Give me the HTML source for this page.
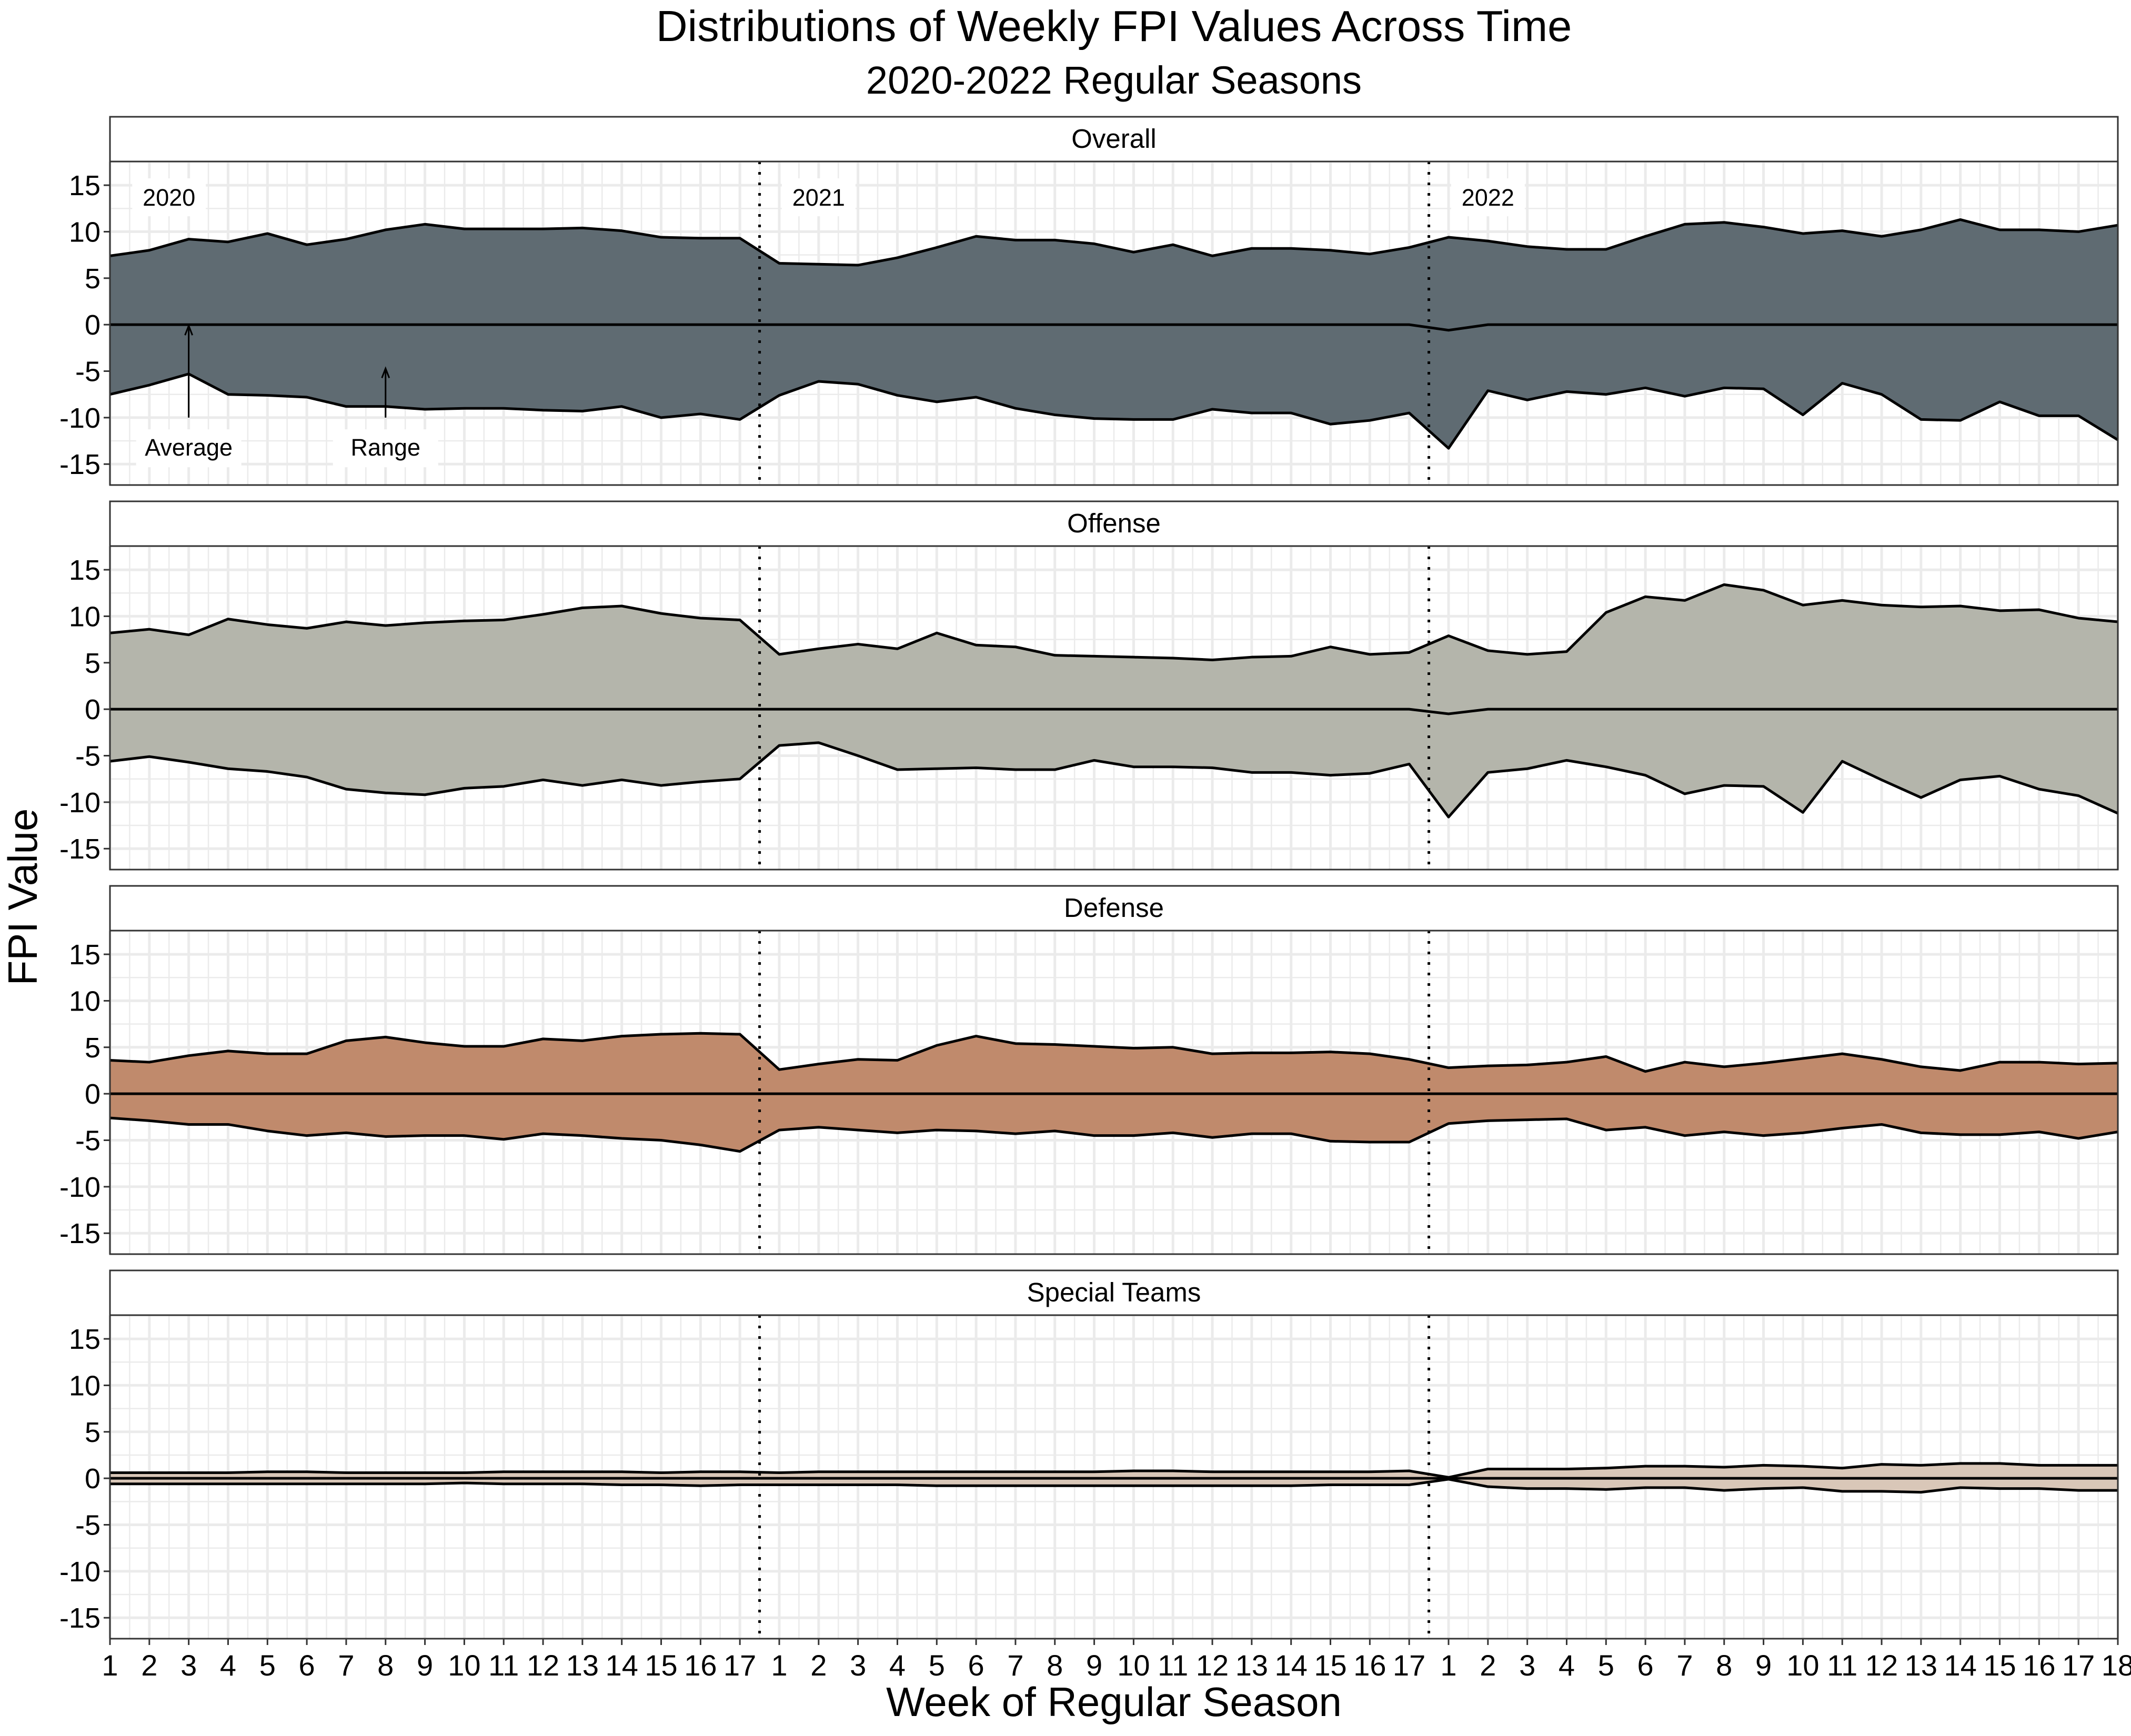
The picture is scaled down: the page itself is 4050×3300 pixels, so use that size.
<!DOCTYPE html>
<html><head><meta charset="utf-8"><style>
html,body{margin:0;padding:0;background:#fff;}
svg{display:block;font-family:"Liberation Sans",sans-serif;}
</style></head><body>
<svg id="chart" width="4050" height="3300" viewBox="0 0 4050 3300" xmlns="http://www.w3.org/2000/svg">
<text x="2117" y="78" font-size="83" text-anchor="middle">Distributions of Weekly FPI Values Across Time</text>
<text x="2117" y="178" font-size="74" text-anchor="middle">2020-2022 Regular Seasons</text>
<text transform="translate(70,1705) rotate(-90)" font-size="78" text-anchor="middle">FPI Value</text>
<text x="2117" y="3262" font-size="78" text-anchor="middle">Week of Regular Season</text>
<g id="panels"></g>
</svg>
<script>
const weekLabels = ["1","2","3","4","5","6","7","8","9","10","11","12","13","14","15","16","17","1","2","3","4","5","6","7","8","9","10","11","12","13","14","15","16","17","1","2","3","4","5","6","7","8","9","10","11","12","13","14","15","16","17","18"];
const yTicks = [-15,-10,-5,0,5,10,15];
const panelNames = ["Overall","Offense","Defense","Special Teams"];
const panelColors = ["#5f6b72","#b4b5ab","#c08a6c","#d9c7b8"];
const overallHigh = [7.4,8.0,9.2,8.9,9.8,8.6,9.2,10.2,10.8,10.3,10.3,10.3,10.4,10.1,9.4,9.3,9.3, 6.6,6.5,6.4,7.2,8.3,9.5,9.1,9.1,8.7,7.8,8.6,7.4,8.2,8.2,8.0,7.6,8.3, 9.4,9.0,8.4,8.1,8.1,9.5,10.8,11.0,10.5,9.8,10.1,9.5,10.2,11.3,10.2,10.2,10.0,10.7];
const overallLow = [-7.5,-6.5,-5.3,-7.5,-7.6,-7.8,-8.8,-8.8,-9.1,-9.0,-9.0,-9.2,-9.3,-8.8,-10.0,-9.6,-10.2, -7.6,-6.1,-6.4,-7.6,-8.3,-7.8,-9.0,-9.7,-10.1,-10.2,-10.2,-9.1,-9.5,-9.5,-10.7,-10.3,-9.5, -13.3,-7.1,-8.1,-7.2,-7.5,-6.8,-7.7,-6.8,-6.9,-9.7,-6.3,-7.5,-10.2,-10.3,-8.3,-9.8,-9.8,-12.4];
const offenseHigh = [8.2,8.6,8.0,9.7,9.1,8.7,9.4,9.0,9.3,9.5,9.6,10.2,10.9,11.1,10.3,9.8,9.6, 5.9,6.5,7.0,6.5,8.2,6.9,6.7,5.8,5.7,5.6,5.5,5.3,5.6,5.7,6.7,5.9,6.1, 7.9,6.3,5.9,6.2,10.4,12.1,11.7,13.4,12.8,11.2,11.7,11.2,11.0,11.1,10.6,10.7,9.8,9.4];
const offenseLow = [-5.6,-5.1,-5.7,-6.4,-6.7,-7.3,-8.6,-9.0,-9.2,-8.5,-8.3,-7.6,-8.2,-7.6,-8.2,-7.8,-7.5, -3.9,-3.6,-5.0,-6.5,-6.4,-6.3,-6.5,-6.5,-5.5,-6.2,-6.2,-6.3,-6.8,-6.8,-7.1,-6.9,-5.9, -11.6,-6.8,-6.4,-5.5,-6.2,-7.1,-9.1,-8.2,-8.3,-11.1,-5.6,-7.6,-9.5,-7.6,-7.2,-8.6,-9.3,-11.2];
const defenseHigh = [3.6,3.4,4.1,4.6,4.3,4.3,5.7,6.1,5.5,5.1,5.1,5.9,5.7,6.2,6.4,6.5,6.4, 2.6,3.2,3.7,3.6,5.2,6.2,5.4,5.3,5.1,4.9,5.0,4.3,4.4,4.4,4.5,4.3,3.7, 2.8,3.0,3.1,3.4,4.0,2.4,3.4,2.9,3.3,3.8,4.3,3.7,2.9,2.5,3.4,3.4,3.2,3.3];
const defenseLow = [-2.6,-2.9,-3.3,-3.3,-4.0,-4.5,-4.2,-4.6,-4.5,-4.5,-4.9,-4.3,-4.5,-4.8,-5.0,-5.5,-6.2, -3.9,-3.6,-3.9,-4.2,-3.9,-4.0,-4.3,-4.0,-4.5,-4.5,-4.2,-4.7,-4.3,-4.3,-5.1,-5.2,-5.2, -3.2,-2.9,-2.8,-2.7,-3.9,-3.6,-4.5,-4.1,-4.5,-4.2,-3.7,-3.3,-4.2,-4.4,-4.4,-4.1,-4.8,-4.1];
const specialHigh = [0.6,0.6,0.6,0.6,0.7,0.7,0.6,0.6,0.6,0.6,0.7,0.7,0.7,0.7,0.6,0.7,0.7, 0.6,0.7,0.7,0.7,0.7,0.7,0.7,0.7,0.7,0.8,0.8,0.7,0.7,0.7,0.7,0.7,0.8, 0.1,1.0,1.0,1.0,1.1,1.3,1.3,1.2,1.4,1.3,1.1,1.5,1.4,1.6,1.6,1.4,1.4,1.4];
const specialLow = [-0.6,-0.6,-0.6,-0.6,-0.6,-0.6,-0.6,-0.6,-0.6,-0.5,-0.6,-0.6,-0.6,-0.7,-0.7,-0.8,-0.7, -0.7,-0.7,-0.7,-0.7,-0.8,-0.8,-0.8,-0.8,-0.8,-0.8,-0.8,-0.8,-0.8,-0.8,-0.7,-0.7,-0.7, -0.1,-0.9,-1.1,-1.1,-1.2,-1.0,-1.0,-1.3,-1.1,-1.0,-1.4,-1.4,-1.5,-1.0,-1.1,-1.1,-1.3,-1.3];
const overallMean = [0,0,0,0,0,0,0,0,0,0,0,0,0,0,0,0,0, 0,0,0,0,0,0,0,0,0,0,0,0,0,0,0,0,0, -0.6,0,0,0,0,0,0,0,0,0,0,0,0,0,0,0,0,0];
const offenseMean = [0,0,0,0,0,0,0,0,0,0,0,0,0,0,0,0,0, 0,0,0,0,0,0,0,0,0,0,0,0,0,0,0,0,0, -0.5,0,0,0,0,0,0,0,0,0,0,0,0,0,0,0,0,0];
const defenseMean = [0,0,0,0,0,0,0,0,0,0,0,0,0,0,0,0,0, 0,0,0,0,0,0,0,0,0,0,0,0,0,0,0,0,0, 0,0,0,0,0,0,0,0,0,0,0,0,0,0,0,0,0,0];
const specialMean = [0,0,0,0,0,0,0,0,0,0,0,0,0,0,0,0,0, 0,0,0,0,0,0,0,0,0,0,0,0,0,0,0,0,0, 0,0,0,0,0,0,0,0,0,0,0,0,0,0,0,0,0,0];
const seasonBreaks = [16.5, 33.5];
const yearLabels = ["2020","2021","2022"];
const yearLabelX = [1.5, 18, 35];
const yearLabelY = 13.7;

const highs=[overallHigh,offenseHigh,defenseHigh,specialHigh];
const lows=[overallLow,offenseLow,defenseLow,specialLow];
const means=[overallMean,offenseMean,defenseMean,specialMean];

const NS="http://www.w3.org/2000/svg";
const L=209,R=4025, yMin=-17.25, yMax=17.55;
const xs=i=>L+i*(R-L)/(weekLabels.length-1);
function mk(tag,attrs,parent){const e=document.createElementNS(NS,tag);for(const k in attrs)e.setAttribute(k,attrs[k]);parent.appendChild(e);return e;}
const root=document.getElementById('panels');
panelNames.forEach((name,p)=>{
  const stripTop=222+p*731, top=stripTop+85, bot=top+615;
  const ys=v=>bot-(v-yMin)/(yMax-yMin)*(bot-top);
  const g=mk('g',{},root);
  
  
  const strip=mk('rect',{x:L,y:stripTop,width:R-L,height:85,fill:'#fff',stroke:'#333','stroke-width':3},g);
  
  
  const st=mk('text',{x:(L+R)/2,y:stripTop+59,'font-size':51,'text-anchor':'middle'},g);
  st.textContent=name;
  
  
  for(let v=-15;v<=17.5;v+=2.5){const major=Math.abs(v%5)<1e-6;
    mk('line',{x1:L,x2:R,y1:ys(v),y2:ys(v),stroke:'#ebebeb','stroke-width':major?5:2.5},g);}
  for(let i=0;i<weekLabels.length;i+=0.5){const major=Math.abs(i%1)<1e-6;
    mk('line',{x1:xs(i),x2:xs(i),y1:top,y2:bot,stroke:'#ebebeb','stroke-width':major?5:2.5},g);}
  const hi=highs[p], lo=lows[p], mn=means[p];
  let d='M'+hi.map((v,i)=>xs(i)+','+ys(v)).join(' L')+' L'+lo.map((v,i)=>xs(i)+','+ys(v)).reverse().join(' L')+' Z';
  const area=mk('path',{d:d,fill:panelColors[p],stroke:'none'},g);
  
  
  [hi,lo].forEach((arr,k)=>{const ln=mk('path',{d:'M'+arr.map((v,i)=>xs(i)+','+ys(v)).join(' L'),fill:'none',stroke:'#000','stroke-width':5,'stroke-linejoin':'round'},g);
    
    });
  const ml=mk('path',{d:'M'+mn.map((v,i)=>xs(i)+','+ys(v)).join(' L'),fill:'none',stroke:'#000','stroke-width':5},g);
  
  
  seasonBreaks.forEach(b=>{const sl=mk('line',{x1:xs(b),x2:xs(b),y1:top,y2:bot,stroke:'#000','stroke-width':5,'stroke-dasharray':'5 15'},g);
    
    });
  if(p===0){
    yearLabels.forEach((t,k)=>{const cx=xs(yearLabelX[k]),cy=ys(yearLabelY);
      mk('rect',{x:cx-70,y:cy-36,width:140,height:72,fill:'#fff'},g);
      const yt=mk('text',{x:cx,y:cy+16,'font-size':45,'text-anchor':'middle'},g);yt.textContent=t;
      
      });
    [[2,0,'Average'],[7,-4.6,'Range']].forEach(a=>{const x=xs(a[0]);
      mk('line',{x1:x,x2:x,y1:ys(-10),y2:ys(a[1])+4,stroke:'#000','stroke-width':3},g);
      mk('path',{d:`M${x-7},${ys(a[1])+20} L${x},${ys(a[1])+2} L${x+7},${ys(a[1])+20}`,fill:'none',stroke:'#000','stroke-width':3},g);
      const cy=ys(-13.3);
      mk('rect',{x:x-100,y:cy-36,width:200,height:72,fill:'#fff'},g);
      const at=mk('text',{x:x,y:cy+14,'font-size':45,'text-anchor':'middle'},g);at.textContent=a[2];
      
      });
  }
  const pb=mk('rect',{x:L,y:top,width:R-L,height:bot-top,fill:'none',stroke:'#333','stroke-width':3},g);
  
  
  yTicks.forEach(v=>{mk('line',{x1:L-12,x2:L,y1:ys(v),y2:ys(v),stroke:'#333','stroke-width':3},g);
    const t=mk('text',{x:L-18,y:ys(v)+19,'font-size':54,'text-anchor':'end'},g);t.textContent=v;
    
    });
  if(p===3){weekLabels.forEach((w,i)=>{mk('line',{x1:xs(i),x2:xs(i),y1:bot,y2:bot+12,stroke:'#333','stroke-width':3},g);
    const t=mk('text',{x:xs(i),y:bot+70,'font-size':56,'text-anchor':'middle'},g);t.textContent=w;
    
    });}
});
</script>
</body></html>
